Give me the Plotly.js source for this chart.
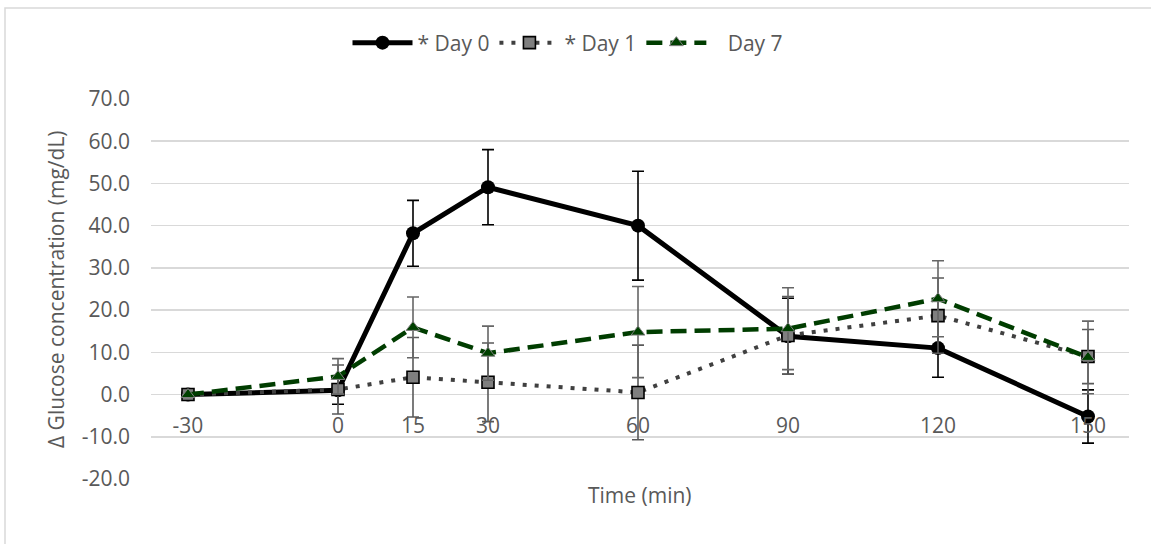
<!DOCTYPE html>
<html>
<head>
<meta charset="utf-8">
<script src="https://cdn.plot.ly/plotly-3.0.1.min.js"></script>
<style>html,body{margin:0;padding:0;background:#fff;}#chart{width:1151px;height:544px;}</style>
</head>
<body>
<div id="chart"></div>
<script>
// Data
var timeMin = [-30, 0, 15, 30, 60, 90, 120, 150];
var tickLabels = ['-30', '0', '15', '30', '60', '90', '120', '150'];

var yTickVals = [-20, -10, 0, 10, 20, 30, 40, 50, 60, 70];
var yTickLabels = ['-20.0', '-10.0', '0.0', '10.0', '20.0', '30.0', '40.0', '50.0', '60.0', '70.0'];

var day0 = [0, 1.0, 38.2, 49.1, 40.0, 13.8, 11.0, -5.2];
var day0Err = [0, 3.3, 7.8, 8.9, 12.9, 9.0, 6.9, 6.3];

var day1 = [0, 1.2, 4.1, 2.9, 0.5, 14.0, 18.7, 9.0];
var day1Err = [0, 5.8, 9.4, 9.3, 11.2, 9.2, 8.9, 6.4];

var day7 = [0, 4.3, 15.9, 9.8, 14.8, 15.6, 22.7, 8.8];
var day7Err = [0, 4.2, 7.2, 6.4, 10.8, 9.7, 9.0, 8.6];

var seriesNames = ['* Day 0', '* Day 1', '\u00a0\u00a0\u00a0Day 7'];

var FONT = 'Open Sans, Noto Sans, sans-serif';
var TXT = '#595959';
var FS = 21;

var traces = [
  {
    x: timeMin, y: day0, name: seriesNames[0], type: 'scatter', mode: 'lines+markers',
    line: {color: '#000000', width: 5},
    marker: {symbol: 'circle', size: 14, color: '#000000'},
    error_y: {type: 'data', array: day0Err, visible: true, color: '#000000', thickness: 1.6, width: 6}
  },
  {
    x: timeMin, y: day1, name: seriesNames[1], type: 'scatter', mode: 'lines+markers',
    line: {color: '#404040', width: 4, dash: '4px,8px'},
    marker: {symbol: 'square', size: 12, color: '#7f7f7f', line: {color: '#000000', width: 1.6}},
    error_y: {type: 'data', array: day1Err, visible: true, color: '#5a5a5a', thickness: 1.6, width: 6}
  },
  {
    x: timeMin, y: day7, name: seriesNames[2], type: 'scatter', mode: 'lines+markers',
    line: {color: '#003d00', width: 4.5, dash: '16px,8px'},
    marker: {symbol: 'triangle-up', size: 12, color: '#004000', line: {color: '#7f7f7f', width: 1}},
    error_y: {type: 'data', array: day7Err, visible: true, color: '#666666', thickness: 1.6, width: 6}
  }
];

var W = 1151, H = 544, L = 151, R = 22, T = 99, B = 65;
var pw = W - L - R, ph = H - T - B;
function px2x(p) { return (p - L) / pw; }
function py2y(p) { return (H - B - p) / ph; }

var yMin = -20, yMax = 70;

var layout = {
  width: W, height: H,
  margin: {l: L, r: R, t: T, b: B, pad: 0},
  paper_bgcolor: '#ffffff', plot_bgcolor: '#ffffff',
  font: {family: FONT, size: FS, color: TXT},
  showlegend: true,
  legend: {
    orientation: 'h', x: px2x(568), xanchor: 'center', y: py2y(43), yanchor: 'middle',
    font: {family: FONT, size: FS, color: TXT}, itemwidth: 60, tracegroupgap: 0,
    bgcolor: 'rgba(0,0,0,0)'
  },
  xaxis: {
    type: 'linear', range: [-37.4, 158.2],
    tickmode: 'array', tickvals: timeMin, ticktext: tickLabels,
    showgrid: false, zeroline: false, showline: false, ticks: '',
    anchor: 'free', position: (0 - yMin) / (yMax - yMin),
    ticklabelstandoff: 16,
    tickfont: {family: FONT, size: FS, color: TXT}
  },
  yaxis: {
    range: [yMin, yMax], tickmode: 'array', tickvals: yTickVals, ticktext: yTickLabels,
    showgrid: true, gridcolor: '#d9d9d9', gridwidth: 1.5,
    zeroline: false, showline: false, ticks: '', ticklabelstandoff: 20,
    tickfont: {family: FONT, size: FS, color: TXT}
  },
  annotations: [
    {text: 'Δ Glucose concentration (mg/dL)', xref: 'paper', yref: 'paper',
     x: px2x(56), y: 0.5, xanchor: 'center', yanchor: 'middle', textangle: -90,
     showarrow: false, font: {family: FONT, size: FS, color: TXT}},
    {text: 'Time (min)', xref: 'paper', yref: 'paper',
     x: 0.5, y: py2y(495), xanchor: 'center', yanchor: 'middle',
     showarrow: false, font: {family: FONT, size: FS, color: TXT}}
  ],
  shapes: [
    {type: 'rect', xref: 'paper', yref: 'paper', x0: px2x(5), x1: px2x(1170), y0: py2y(570), y1: py2y(8),
     line: {color: '#d9d9d9', width: 1.5}, fillcolor: 'rgba(0,0,0,0)', layer: 'below'}
  ]
};

Plotly.newPlot('chart', traces, layout, {displayModeBar: false, staticPlot: true});
</script>
</body>
</html>
